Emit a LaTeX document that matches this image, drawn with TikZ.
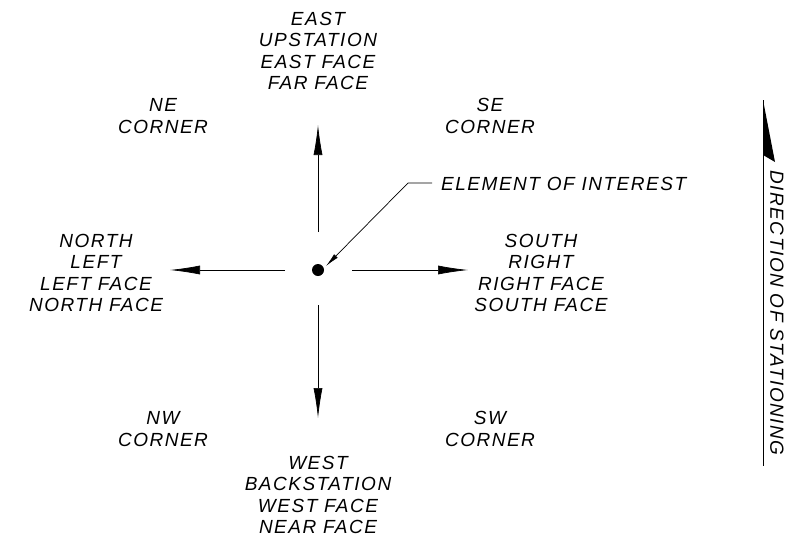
\documentclass[tikz,border=0pt]{standalone}
\usepackage{fontspec}
\setmainfont{Liberation Sans}[ItalicFont={Liberation Sans Italic}, LetterSpace=8]
\usetikzlibrary{arrows.meta}
\tikzset{
  lbl/.style={align=center, inner sep=0pt, font=\fontsize{19}{21.6}\selectfont\itshape},
  dirarrow/.style={line width=0.7pt, -{Latex[length=30pt,width=9pt]}},
  leader/.style={line width=0.7pt, -{Latex[length=14pt,width=5pt]}}
}
\begin{document}
\begin{tikzpicture}[x=1pt,y=-1pt]
\useasboundingbox (0,0) rectangle (800,539);
% center element
\fill (318,270) circle (6);
\coordinate (c) at (318,270);
\coordinate (nS) at (318,232);
\coordinate (nE) at (318,125);
\coordinate (sS) at (318,305);
\coordinate (sE) at (318,418);
\coordinate (wS) at (285,270);
\coordinate (wE) at (170,270);
\coordinate (eS) at (352,270);
\coordinate (eE) at (468,270);
\draw[dirarrow] (nS) -- (nE);
\draw[dirarrow] (sS) -- (sE);
\draw[dirarrow] (wS) -- (wE);
\draw[dirarrow] (eS) -- (eE);
% labels
\node[lbl] (east) at (318,51) {EAST\\UPSTATION\\EAST FACE\\FAR FACE};
\node[lbl] (west) at (318,495) {WEST\\BACKSTATION\\WEST FACE\\NEAR FACE};
\node[lbl] (north) at (96,273) {NORTH\\LEFT\\LEFT FACE\\NORTH FACE};
\node[lbl] (south) at (541,273) {SOUTH\\RIGHT\\RIGHT FACE\\SOUTH FACE};
\node[lbl] (ne) at (163,116) {NE\\CORNER};
\node[lbl] (se) at (490,116) {SE\\CORNER};
\node[lbl] (nw) at (163,429) {NW\\CORNER};
\node[lbl] (sw) at (490,429) {SW\\CORNER};
% element of interest
\node[lbl, anchor=west] (eoi) at (441,184) {ELEMENT OF INTEREST};
\coordinate (h) at (432,183);
\coordinate (k) at (408,183);
\coordinate (t) at (326,266);
\draw[leader] (h) -- (k) -- (t);
% direction of stationing
\coordinate (dTop) at (763,100);
\coordinate (dBot) at (763,466);
\draw[line width=0.7pt] (dTop) -- (dBot);
\fill (dTop) -- (775,162) -- (763,155) -- cycle;
\node[lbl, rotate=-90] (dos) at (777,313) {DIRECTION OF STATIONING};
\end{tikzpicture}
\end{document}
